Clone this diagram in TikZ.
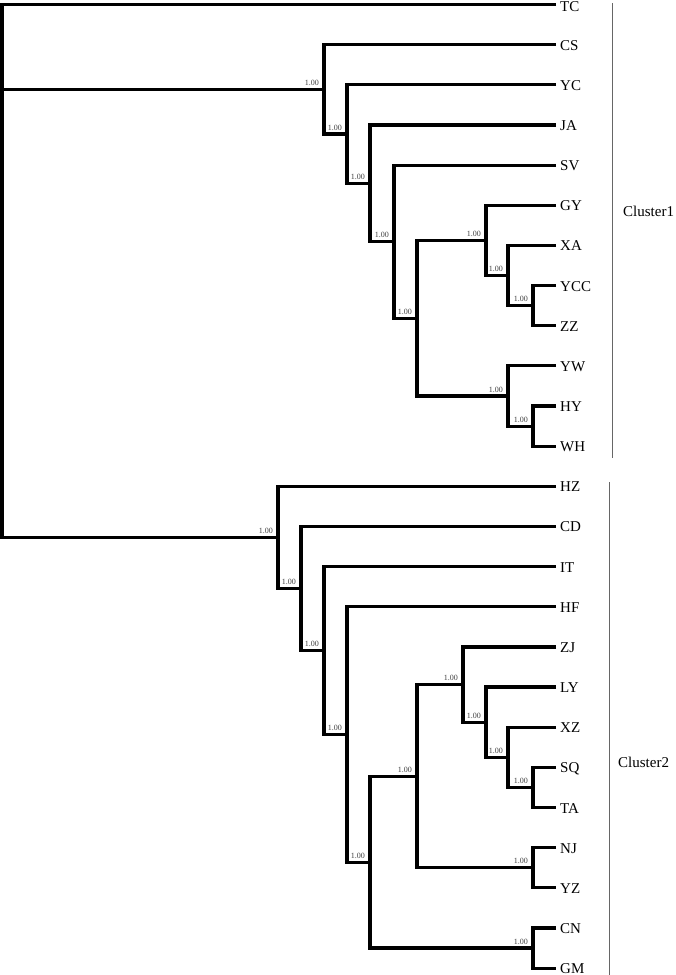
\documentclass[tikz,border=0pt]{standalone}
\usepackage{fontspec}
\setmainfont{Liberation Serif}
\begin{document}
\begin{tikzpicture}[x=1pt,y=-1pt,
  branch/.style={line width=3.2pt, line join=miter},
  leaflab/.style={anchor=base west, inner sep=0pt, font=\fontsize{15}{15}\selectfont},
  boot/.style={anchor=base east, inner sep=0pt, text=black!75, font=\fontsize{8}{8}\selectfont},
  clbar/.style={line width=1pt, draw=black!60},
  cllab/.style={anchor=base west, inner sep=0pt, font=\fontsize{15}{15}\selectfont}]
\useasboundingbox[fill=white] (0,0) rectangle (675,975);
% leaves
\foreach \n [count=\i from 0] in {TC,CS,YC,JA,SV,GY,XA,YCC,ZZ,YW,HY,WH,HZ,CD,IT,HF,ZJ,LY,XZ,SQ,TA,NJ,YZ,CN,GM}{
  \coordinate (t\n) at (556, {4.5+40.15*\i});
  \ifnum\i=0
    \node[leaflab] (\n) at (560, 11.5) {\n};
  \else
    \node[leaflab] (\n) at (560, {10+40.15*\i}) {\n};
  \fi
}
% internal nodes, cluster 1
\coordinate (N8) at (533,305.6);
\coordinate (N7) at (508,275.5);
\coordinate (N6) at (486,240.4);
\coordinate (N10) at (533,426.1);
\coordinate (N9) at (508,396.0);
\coordinate (N5) at (417,318.2);
\coordinate (N4) at (394,241.6);
\coordinate (N3) at (370,183.3);
\coordinate (N2) at (347,134.0);
\coordinate (N1) at (324,89.3);
% internal nodes, cluster 2
\coordinate (C8c) at (533,787.4);
\coordinate (C8b) at (508,757.3);
\coordinate (C8) at (486,722.2);
\coordinate (C7) at (463,684.5);
\coordinate (C9) at (533,867.7);
\coordinate (C6) at (417,776.1);
\coordinate (C10) at (533,948.0);
\coordinate (C5) at (370,862.1);
\coordinate (C4) at (347,734.4);
\coordinate (C3) at (324,650.5);
\coordinate (C2) at (301,588.5);
\coordinate (C1) at (278,537.4);
\coordinate (root) at (2,89.3);
% branches
\draw[branch] (tYCC) -| (N8) |- (tZZ);
\draw[branch] (tXA) -| (N7) |- (N8);
\draw[branch] (tGY) -| (N6) |- (N7);
\draw[branch] (tHY) -| (N10) |- (tWH);
\draw[branch] (tYW) -| (N9) |- (N10);
\draw[branch] (N6) -| (N5) |- (N9);
\draw[branch] (tSV) -| (N4) |- (N5);
\draw[branch] (tJA) -| (N3) |- (N4);
\draw[branch] (tYC) -| (N2) |- (N3);
\draw[branch] (tCS) -| (N1) |- (N2);
\draw[branch] (tSQ) -| (C8c) |- (tTA);
\draw[branch] (tXZ) -| (C8b) |- (C8c);
\draw[branch] (tLY) -| (C8) |- (C8b);
\draw[branch] (tZJ) -| (C7) |- (C8);
\draw[branch] (tNJ) -| (C9) |- (tYZ);
\draw[branch] (C7) -| (C6) |- (C9);
\draw[branch] (tCN) -| (C10) |- (tGM);
\draw[branch] (C6) -| (C5) |- (C10);
\draw[branch] (tHF) -| (C4) |- (C5);
\draw[branch] (tIT) -| (C3) |- (C4);
\draw[branch] (tCD) -| (C2) |- (C3);
\draw[branch] (tHZ) -| (C1) |- (C2);
\draw[branch] (tTC) -| (root) |- (C1);
\draw[branch] (root) -- (N1);
% support values
\foreach \p in {N1,N2,N3,N4,N5,N6,N7,N8,N9,N10,C1,C2,C3,C4,C5,C6,C7,C8,C8b,C8c,C9,C10}{
  \node[boot] (b\p) at ([shift={(-5,-4)}]\p) {1.00};
}
% cluster bars
\coordinate (k1a) at (612,3);
\coordinate (k1b) at (612,458);
\coordinate (k2a) at (609.5,482);
\coordinate (k2b) at (609.5,975);
\draw[clbar] (k1a) -- (k1b);
\draw[clbar] (k2a) -- (k2b);
\node[cllab] (cl1) at (623,216) {Cluster1};
\node[cllab] (cl2) at (618,767) {Cluster2};
\end{tikzpicture}
\end{document}
